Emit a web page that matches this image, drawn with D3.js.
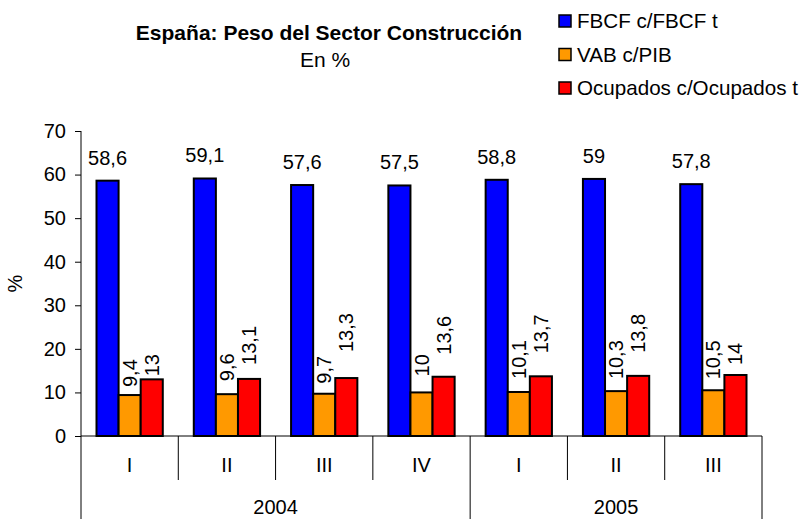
<!DOCTYPE html>
<html>
<head>
<meta charset="utf-8">
<script src="https://cdn.jsdelivr.net/npm/d3@7"></script>
<style>
  body { margin: 0; background: #fff; }
  text { font-family: "Liberation Sans", Arial, sans-serif; fill: #000; }
</style>
</head>
<body>
<div id="chart"></div>
<script>
// data
var quarters = ["I", "II", "III", "IV", "I", "II", "III"];
var years = ["2004", "2004", "2004", "2004", "2005", "2005", "2005"];
var seriesNames = ["FBCF c/FBCF t", "VAB c/PIB", "Ocupados c/Ocupados t"];
var fbcf = [58.6, 59.1, 57.6, 57.5, 58.8, 59, 57.8];
var vab = [9.4, 9.6, 9.7, 10, 10.1, 10.3, 10.5];
var ocupados = [13, 13.1, 13.3, 13.6, 13.7, 13.8, 14];
var yTicks = [0, 10, 20, 30, 40, 50, 60, 70];

// label gaps above the bars (px), the source staggers them
var vabGap = [8, 13, 10, 16, 13, 12, 11];
var ocupGap = [3, 14, 26, 22, 23, 23, 10];

var colors = ["#0000ff", "#ff9900", "#ff0000"];
var W = 804, H = 519;
var plot = { left: 81, right: 762, top: 131, bottom: 436 };

var svg = d3.select("#chart").append("svg")
    .attr("width", W)
    .attr("height", H);

var idx = d3.range(quarters.length);
var x0 = d3.scaleBand().domain(idx).range([plot.left, plot.right]).padding(0);
var x1 = d3.scaleBand().domain([0, 1, 2])
    .range([15.5, x0.bandwidth() - 15.5]).padding(0);
var y = d3.scaleLinear().domain([0, 70]).range([plot.bottom, plot.top]);

var fmt = v => String(v).replace(".", ",");
var allSeries = [fbcf, vab, ocupados];

// title
svg.append("text")
    .attr("x", 329).attr("y", 40)
    .attr("text-anchor", "middle")
    .style("font-size", "21px").style("font-weight", "bold")
    .text("España: Peso del Sector Construcción");
svg.append("text")
    .attr("x", 325).attr("y", 67)
    .attr("text-anchor", "middle")
    .style("font-size", "21px")
    .text("En %");

// legend
seriesNames.forEach(function(name, i) {
    var ly = 21 + i * 33.5;
    svg.append("rect")
        .attr("x", 559).attr("y", ly - 6)
        .attr("width", 12).attr("height", 12)
        .attr("fill", colors[i])
        .attr("stroke", "#000").attr("stroke-width", 1.5);
    svg.append("text")
        .attr("x", 577).attr("y", ly)
        .attr("dy", "0.35em")
        .style("font-size", "20.6px")
        .text(name);
});

// y axis
var yAxis = svg.append("g")
    .attr("transform", "translate(" + plot.left + ",0)")
    .call(d3.axisLeft(y).tickValues(yTicks).tickSize(6).tickPadding(9));
yAxis.select(".domain").remove();
yAxis.selectAll(".tick line").attr("stroke", "#000");
yAxis.selectAll("text").style("font-size", "20px")
    .style("font-family", "Liberation Sans, Arial, sans-serif");

svg.append("line")
    .attr("x1", plot.left).attr("x2", plot.left)
    .attr("y1", plot.top).attr("y2", H)
    .attr("stroke", "#000");

svg.append("text")
    .attr("transform", "translate(22," + ((plot.top + plot.bottom) / 2) + ") rotate(-90)")
    .attr("text-anchor", "middle")
    .style("font-size", "20px")
    .text("%");

// category axis
svg.append("line")
    .attr("x1", plot.left).attr("x2", plot.right)
    .attr("y1", plot.bottom).attr("y2", plot.bottom)
    .attr("stroke", "#000");

idx.forEach(function(i) {
    var xr = x0(i) + x0.bandwidth();
    var lastOfYear = i == idx.length - 1 || years[i + 1] != years[i];
    svg.append("line")
        .attr("x1", xr).attr("x2", xr)
        .attr("y1", plot.bottom).attr("y2", lastOfYear ? H : 480)
        .attr("stroke", "#000");
    svg.append("text")
        .attr("x", x0(i) + x0.bandwidth() / 2).attr("y", 472)
        .attr("text-anchor", "middle")
        .style("font-size", "20px")
        .text(quarters[i]);
});

var yearList = Array.from(new Set(years));
yearList.forEach(function(yr) {
    var members = idx.filter(i => years[i] == yr);
    var xa = x0(members[0]);
    var xb = x0(members[members.length - 1]) + x0.bandwidth();
    svg.append("text")
        .attr("x", (xa + xb) / 2).attr("y", 514)
        .attr("text-anchor", "middle")
        .style("font-size", "20px")
        .text(yr);
});

// bars
allSeries.forEach(function(vals, s) {
    svg.append("g")
        .selectAll("rect")
        .data(vals)
        .join("rect")
        .attr("x", (d, i) => x0(i) + x1(s))
        .attr("y", d => y(d))
        .attr("width", x1.bandwidth())
        .attr("height", d => y(0) - y(d))
        .attr("fill", colors[s])
        .attr("stroke", "#000")
        .attr("stroke-width", 2);
});

// value labels
svg.append("g")
    .selectAll("text")
    .data(fbcf)
    .join("text")
    .attr("x", (d, i) => x0(i) + x1(0) + x1.bandwidth() / 2)
    .attr("y", d => y(d) - 16)
    .attr("text-anchor", "middle")
    .style("font-size", "20px")
    .text(fmt);

[[vab, vabGap], [ocupados, ocupGap]].forEach(function(pair, k) {
    var s = k + 1;
    var gaps = pair[1];
    svg.append("g")
        .selectAll("text")
        .data(pair[0])
        .join("text")
        .attr("transform", (d, i) => "translate(" + (x0(i) + x1(s) + x1.bandwidth() / 2) + "," + (y(d) - gaps[i]) + ") rotate(-90)")
        .attr("dy", "0.35em")
        .style("font-size", "20px")
        .text(fmt);
});
</script>
</body>
</html>
